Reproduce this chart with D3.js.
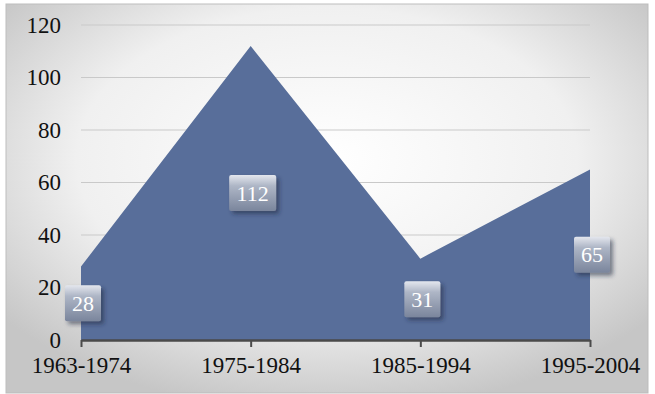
<!DOCTYPE html>
<html>
<head>
<meta charset="utf-8">
<script src="https://cdn.jsdelivr.net/npm/d3@7"></script>
<style>
  html, body { margin: 0; padding: 0; background: #fff; }
  svg { display: block; }
</style>
</head>
<body>
<svg id="chart" width="655" height="394"></svg>
<script>
// Periods and counts per period
const categories = ["1963-1974", "1975-1984", "1985-1994", "1995-2004"];
const values = [28, 112, 31, 65];
const yTicks = [0, 20, 40, 60, 80, 100, 120];

const W = 655, H = 394;
const svg = d3.select("#chart");
const defs = svg.append("defs");

// Soft radial backdrop
const bg = defs.append("radialGradient").attr("id", "bg")
  .attr("cx", "50%").attr("cy", "40%").attr("r", "65%");
bg.append("stop").attr("offset", "0%").attr("stop-color", "#ffffff");
bg.append("stop").attr("offset", "60%").attr("stop-color", "#f0f0f0");
bg.append("stop").attr("offset", "100%").attr("stop-color", "#c6c6c6");

// Label box shading
const lb = defs.append("linearGradient").attr("id", "lbl")
  .attr("x1", 0).attr("y1", 0).attr("x2", 0).attr("y2", 1);
lb.append("stop").attr("offset", "0%").attr("stop-color", "#e4e7ee");
lb.append("stop").attr("offset", "30%").attr("stop-color", "#aeb6c6");
lb.append("stop").attr("offset", "100%").attr("stop-color", "#7a859c");

const sh = defs.append("filter").attr("id", "shadow")
  .attr("x", "-30%").attr("y", "-30%").attr("width", "170%").attr("height", "170%");
sh.append("feDropShadow").attr("dx", 3).attr("dy", 3).attr("stdDeviation", 2)
  .attr("flood-color", "#202a40").attr("flood-opacity", 0.55);

svg.append("rect").attr("x", 6).attr("y", 4).attr("width", 642).attr("height", 389)
  .attr("fill", "url(#bg)").attr("stroke", "#bdbdbd").attr("stroke-width", 1);

const margin = { left: 81, right: 65, top: 25, bottom: 54 };
const x = d3.scalePoint().domain(categories).range([margin.left, W - margin.right]);
const y = d3.scaleLinear().domain([0, 120]).range([H - margin.bottom, margin.top]);

// Horizontal gridlines
svg.append("g").selectAll("line").data(yTicks.slice(1)).join("line")
  .attr("x1", x(categories[0])).attr("x2", x(categories[3]))
  .attr("y1", d => y(d)).attr("y2", d => y(d))
  .attr("stroke", "#c9c9c9").attr("stroke-width", 1.2);

// Area
const area = d3.area()
  .x((d, i) => x(categories[i]))
  .y0(y(0))
  .y1(d => y(d));
svg.append("path").datum(values).attr("d", area).attr("fill", "#586e9a");

const serif = "Liberation Serif, Times New Roman, serif";

// Y axis labels
const yAxis = d3.axisLeft(y).tickValues(yTicks).tickSize(0).tickPadding(0);
const yg = svg.append("g").attr("transform", `translate(${margin.left - 20},0)`).call(yAxis);
yg.select(".domain").remove();
yg.selectAll("text").attr("font-family", serif)
  .attr("font-size", 23).attr("fill", "#111");

// X axis
const xAxis = d3.axisBottom(x).tickSize(7).tickPadding(10).tickSizeOuter(0);
const xg = svg.append("g").attr("transform", `translate(0,${y(0)})`).call(xAxis);
xg.select(".domain").attr("stroke", "#4a4a4a").attr("stroke-width", 2.5);
xg.selectAll(".tick line").attr("stroke", "#4a4a4a").attr("stroke-width", 2);
xg.selectAll("text").attr("font-family", serif)
  .attr("font-size", 23).attr("fill", "#111");

// Value labels centred at half height
const lab = svg.append("g").selectAll("g").data(values).join("g")
  .attr("transform", (d, i) => `translate(${x(categories[i]) + 2},${y(d / 2)})`);
lab.append("rect")
  .attr("x", d => -(String(d).length * 11 + 14) / 2)
  .attr("y", -18).attr("height", 36)
  .attr("width", d => String(d).length * 11 + 14)
  .attr("rx", 2).attr("fill", "url(#lbl)").attr("filter", "url(#shadow)");
lab.append("text").text(d => d)
  .attr("text-anchor", "middle").attr("dy", "0.35em")
  .attr("font-family", serif)
  .attr("font-size", 22).attr("fill", "#fff");
</script>
</body>
</html>
